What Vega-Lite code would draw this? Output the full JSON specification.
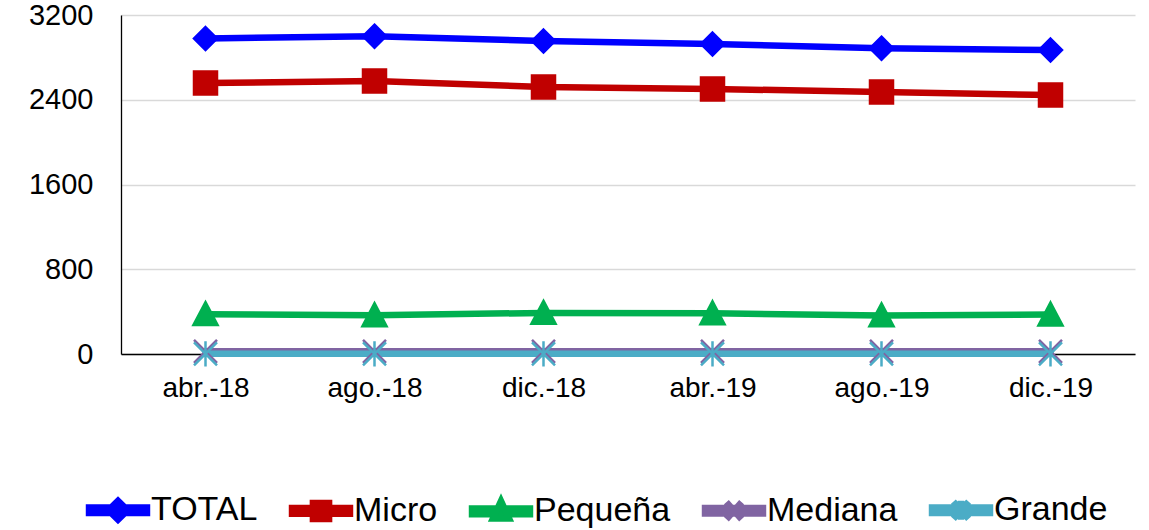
{
  "$schema": "https://vega.github.io/schema/vega-lite/v6.json",
  "autosize": "none",
  "width": 1014,
  "height": 339,
  "padding": {"left": 121, "top": 15, "right": 14, "bottom": 176},
  "background": "white",
  "config": {
    "view": {"stroke": null},
    "font": "Liberation Sans"
  },
  "data": {
    "values": [
      {"mes": "abr.-18", "serie": "TOTAL", "valor": 2978},
      {"mes": "ago.-18", "serie": "TOTAL", "valor": 3000},
      {"mes": "dic.-18", "serie": "TOTAL", "valor": 2954},
      {"mes": "abr.-19", "serie": "TOTAL", "valor": 2926},
      {"mes": "ago.-19", "serie": "TOTAL", "valor": 2887},
      {"mes": "dic.-19", "serie": "TOTAL", "valor": 2869},
      {"mes": "abr.-18", "serie": "Micro", "valor": 2558},
      {"mes": "ago.-18", "serie": "Micro", "valor": 2577},
      {"mes": "dic.-18", "serie": "Micro", "valor": 2520},
      {"mes": "abr.-19", "serie": "Micro", "valor": 2502},
      {"mes": "ago.-19", "serie": "Micro", "valor": 2473},
      {"mes": "dic.-19", "serie": "Micro", "valor": 2445},
      {"mes": "abr.-18", "serie": "Pequeña", "valor": 376},
      {"mes": "ago.-18", "serie": "Pequeña", "valor": 366},
      {"mes": "dic.-18", "serie": "Pequeña", "valor": 388},
      {"mes": "abr.-19", "serie": "Pequeña", "valor": 384},
      {"mes": "ago.-19", "serie": "Pequeña", "valor": 364},
      {"mes": "dic.-19", "serie": "Pequeña", "valor": 372},
      {"mes": "abr.-18", "serie": "Mediana", "valor": 25},
      {"mes": "ago.-18", "serie": "Mediana", "valor": 25},
      {"mes": "dic.-18", "serie": "Mediana", "valor": 25},
      {"mes": "abr.-19", "serie": "Mediana", "valor": 25},
      {"mes": "ago.-19", "serie": "Mediana", "valor": 25},
      {"mes": "dic.-19", "serie": "Mediana", "valor": 25},
      {"mes": "abr.-18", "serie": "Grande", "valor": 2},
      {"mes": "ago.-18", "serie": "Grande", "valor": 2},
      {"mes": "dic.-18", "serie": "Grande", "valor": 2},
      {"mes": "abr.-19", "serie": "Grande", "valor": 2},
      {"mes": "ago.-19", "serie": "Grande", "valor": 2},
      {"mes": "dic.-19", "serie": "Grande", "valor": 2}
    ]
  },
  "encoding": {
    "x": {
      "field": "mes",
      "type": "ordinal",
      "sort": null,
      "scale": {"type": "point", "padding": 0.5},
      "axis": {
        "title": null,
        "labelAngle": 0,
        "labelFontSize": 28,
        "labelColor": "black",
        "ticks": false,
        "domainColor": "black",
        "domainWidth": 1.3,
        "labelPadding": 20,
        "grid": false
      }
    },
    "y": {
      "field": "valor",
      "type": "quantitative",
      "scale": {"domain": [0, 3200], "nice": false},
      "axis": {
        "title": null,
        "format": "d",
        "values": [0, 800, 1600, 2400, 3200],
        "labelFontSize": 29,
        "labelColor": "black",
        "ticks": false,
        "domainColor": "black",
        "domainWidth": 1.3,
        "gridColor": "#d9d9d9",
        "gridWidth": 1.3,
        "labelPadding": 28
      }
    },
    "color": {
      "field": "serie",
      "type": "nominal",
      "sort": null,
      "scale": {
        "domain": ["TOTAL", "Micro", "Pequeña", "Mediana", "Grande"],
        "range": ["#0000ff", "#c00000", "#00b050", "#8064a2", "#4bacc6"]
      },
      "legend": {
        "title": null,
        "orient": "none",
        "direction": "horizontal",
        "columns": 5,
        "legendX": -32,
        "legendY": 478,
        "labelFontSize": 34,
        "labelColor": "black",
        "labelFont": "Liberation Sans",
        "symbolSize": 361,
        "symbolOffset": 12,
        "labelOffset": 16,
        "columnPadding": 21,
        "symbolStrokeWidth": 1.5,
        "symbolType": {"expr": "datum.value === 'TOTAL' ? 'M-3.05,-0.3H-0.7L0,-1L0.7,-0.3H3.05V0.3H0.7L0,1L-0.7,0.3H-3.05Z' : datum.value === 'Micro' ? 'M-3.05,-0.3H-0.85V-0.85H0.85V-0.3H3.05V0.3H0.85V0.85H-0.85V0.3H-3.05Z' : datum.value === 'Pequeña' ? 'M-3.05,-0.3H-0.368L0,-1.1L0.368,-0.3H3.05V0.3H0.643L0.85,0.75H-0.85L-0.643,0.3H-3.05Z' : datum.value === 'Mediana' ? 'M-3.05,-0.3H3.05V0.3H-3.05Z M-0.8,-0.9L0.8,0.9M0.8,-0.9L-0.8,0.9' : 'M-3.05,-0.3H3.05V0.3H-3.05Z M-0.8,-0.9L0.8,0.9M0.8,-0.9L-0.8,0.9M0,-1V1'"}
      }
    }
  },
  "layer": [
    {
      "mark": {"type": "line", "strokeCap": "round", "strokeJoin": "round"},
      "encoding": {
        "strokeWidth": {
          "field": "serie",
          "type": "nominal",
          "scale": {
            "domain": ["TOTAL", "Micro", "Pequeña", "Mediana", "Grande"],
            "range": [6.5, 6.5, 6.5, 5, 6.5]
          },
          "legend": null
        }
      }
    },
    {
      "mark": {
        "type": "point",
        "filled": true,
        "opacity": 1,
        "strokeWidth": 2.5,
        "size": 529,
        "shape": {"expr": "datum.serie === 'TOTAL' ? 'M0,-1L1,0L0,1L-1,0Z' : datum.serie === 'Micro' ? 'M-1,-1H1V1H-1Z' : datum.serie === 'Pequeña' ? 'M0,-1.05L1.05,0.95H-1.05Z' : datum.serie === 'Mediana' ? 'M-1,-1L1,1M1,-1L-1,1' : 'M-1,-1L1,1M1,-1L-1,1M0,-1.1V1.1'"}
      },
      "encoding": {
        "stroke": {
          "field": "serie",
          "type": "nominal",
          "scale": {
            "domain": ["TOTAL", "Micro", "Pequeña", "Mediana", "Grande"],
            "range": ["#0000ff", "#c00000", "#00b050", "#8064a2", "#4bacc6"]
          },
          "legend": null
        }
      }
    }
  ]
}
